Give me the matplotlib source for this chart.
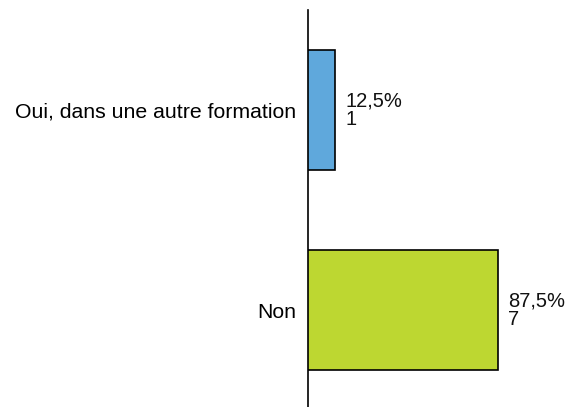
import matplotlib.pyplot as plt

plt.rcParams["font.family"] = ["Liberation Sans", "DejaVu Sans"]

# données
categories = ["Oui, dans une autre formation", "Non"]
counts = [1, 7]
percents = ["12,5%", "87,5%"]
colors = ["#5FA8DC", "#BDD731"]

W, H = 571, 407
fig = plt.figure(figsize=(W / 100, H / 100), dpi=100)
# axe vertical à x≈307.5 px, de y≈10 px jusqu'en bas
ax = fig.add_axes([307.5 / W, -3 / H, 220 / W, 400 / H])

y = range(len(categories))
ax.barh(y, counts, height=0.6, color=colors, edgecolor="black", linewidth=1.2, zorder=3)

ax.set_ylim(1.5, -0.5)
ax.set_xlim(0, 220 / 27.2)

for yi, c, p in zip(y, counts, percents):
    ax.text(c + 0.38, yi, f"{p}\n{c}", va="center", ha="left", fontsize=14.5,
            linespacing=0.95, color="#111111")

ax.set_yticks(list(y))
ax.set_yticklabels(categories, fontsize=15.3)
ax.tick_params(axis="y", length=0, pad=8)
ax.set_xticks([])
ax.spines[["top", "right", "bottom"]].set_visible(False)
ax.spines["left"].set_linewidth(1.2)
ax.patch.set_alpha(0)

fig.savefig("out.png", dpi=100)
